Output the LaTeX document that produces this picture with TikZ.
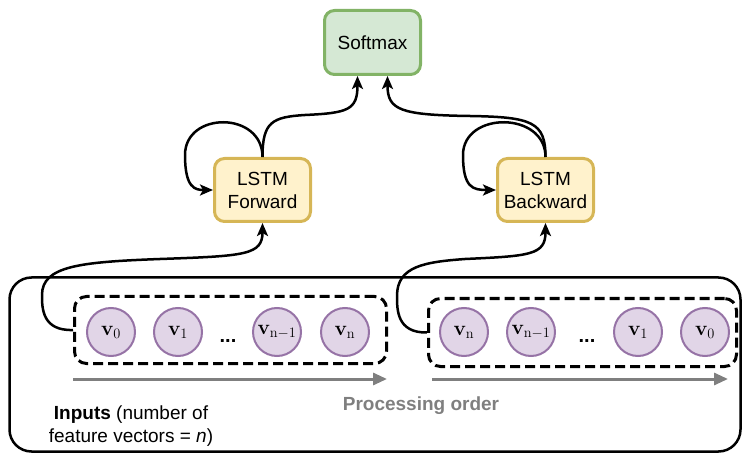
\documentclass[tikz,border=0pt]{standalone}
\usepackage{graphicx}
\usepackage[no-math]{fontspec}
\newfontfamily\lab{Liberation Sans}
\usetikzlibrary{arrows.meta}
\definecolor{gfill}{HTML}{D5E8D4}
\definecolor{gline}{HTML}{82B366}
\definecolor{yfill}{HTML}{FFF2CC}
\definecolor{yline}{HTML}{D6B656}
\definecolor{pfill}{HTML}{E1D5E7}
\definecolor{pline}{HTML}{9673A6}
\definecolor{ggray}{HTML}{7F7F7F}
\newcommand{\vecl}[1]{\scalebox{1.2}{\fontsize{17.28}{17.28}\selectfont$\mathbf{v}_{\mathrm{#1}}$}}
\begin{document}
\begin{tikzpicture}[x=1pt,y=-1pt,
  lbl/.style={font=\lab\fontsize{19}{23}\selectfont, align=center},
  gbox/.style={lbl, draw=gline, fill=gfill, line width=3pt, rounded corners=10pt, minimum width=96pt, minimum height=64pt, inner sep=0pt},
  ybox/.style={lbl, draw=yline, fill=yfill, line width=3pt, rounded corners=10pt, minimum width=96pt, minimum height=63pt, inner sep=0pt},
  vec/.style={circle, draw=pline, fill=pfill, line width=2pt, minimum size=48pt, inner sep=0pt},
  dbox/.style={draw=black, line width=3pt, dash pattern=on 10pt off 5pt, rounded corners=12pt, inner sep=0pt},
  conn/.style={draw=black, line width=2.5pt, -{Stealth[length=13pt,width=11pt,inset=3pt]}},
  order/.style={draw=ggray, line width=3pt, -{Triangle[length=14pt,width=12pt]}},
  dots/.style={font=\lab\bfseries\fontsize{20}{20}\selectfont, inner sep=0pt}
]
\useasboundingbox (0,0) rectangle (744,454);

% outer container
\node[draw=black, line width=2.5pt, rounded corners=22pt, minimum width=731pt, minimum height=174pt, inner sep=0pt] (outer) at (375,364.5) {};

% top nodes
\node[gbox] (soft) at (372.5,42.5) {Softmax};
\node[ybox] (fwd) at (262.5,190) {LSTM\\Forward};
\node[ybox] (bwd) at (545.5,190) {LSTM\\Backward};

% dashed groups
\node[dbox, minimum width=312pt, minimum height=67pt] (ldash) at (230.5,330) {};
\node[dbox, minimum width=308pt, minimum height=68pt] (rdash) at (582.5,332.5) {};

% vectors left
\node[vec] (l0) at (111,332) {\vecl{0}};
\node[vec] (l1) at (178,332) {\vecl{1}};
\node[dots] (ld) at (228,341) {...};
\node[vec] (lm) at (277,332) {\vecl{n-1}};
\node[vec] (ln) at (345,332) {\vecl{n}};

% vectors right
\node[vec] (rn) at (464,332) {\vecl{n}};
\node[vec] (rm) at (531,332) {\vecl{n-1}};
\node[dots] (rd) at (587,341) {...};
\node[vec] (r1) at (638,332) {\vecl{1}};
\node[vec] (r0) at (705,332) {\vecl{0}};

% processing order arrows
\coordinate (la1) at (73,379);
\coordinate (la2) at (387,379);
\coordinate (ra1) at (432,379);
\coordinate (ra2) at (728,379);
\draw[order] (la1) -- (la2);
\draw[order] (ra1) -- (ra2);

% texts
\node[lbl, font=\lab\bfseries\fontsize{19}{23}\selectfont, text=ggray] (po) at (421,406) {Processing order};
\node[lbl] (inp) at (131,426) {\textbf{Inputs} (number of\\feature vectors = \textit{n})};

% softmax inputs
\coordinate (sin1) at ([xshift=-15pt]soft.south);
\coordinate (sin2) at ([xshift=15pt]soft.south);

% LSTM -> Softmax
\draw[conn] (fwd.north) .. controls (262.5,122) and (272,117) .. (305,115) .. controls (348,113) and (357.5,110) .. (sin1);
\draw[conn] (bwd.north) .. controls (545.5,122) and (532,117) .. (470,116) .. controls (400,115) and (387.5,110) .. (sin2);

% self loops
\draw[conn] (fwd.north) .. controls (262.5,111) and (185,111) .. (185,155) .. controls (185,188) and (195,190) .. (fwd.west);
\draw[conn] (bwd.north) .. controls (545.5,111) and (463,111) .. (463,155) .. controls (463,188) and (473,190) .. (bwd.west);

% inputs -> LSTM
\draw[conn] (ldash.west) .. controls (42,331) and (42,308) .. (42,295) .. controls (42,266) and (80,262) .. (160,259) .. controls (245,256) and (262.5,255) .. (fwd.south);
\draw[conn] (rdash.west) .. controls (397,333) and (397,310) .. (397,296) .. controls (397,266) and (425,262) .. (465,259) .. controls (530,256) and (545.5,255) .. (bwd.south);
\end{tikzpicture}
\end{document}
